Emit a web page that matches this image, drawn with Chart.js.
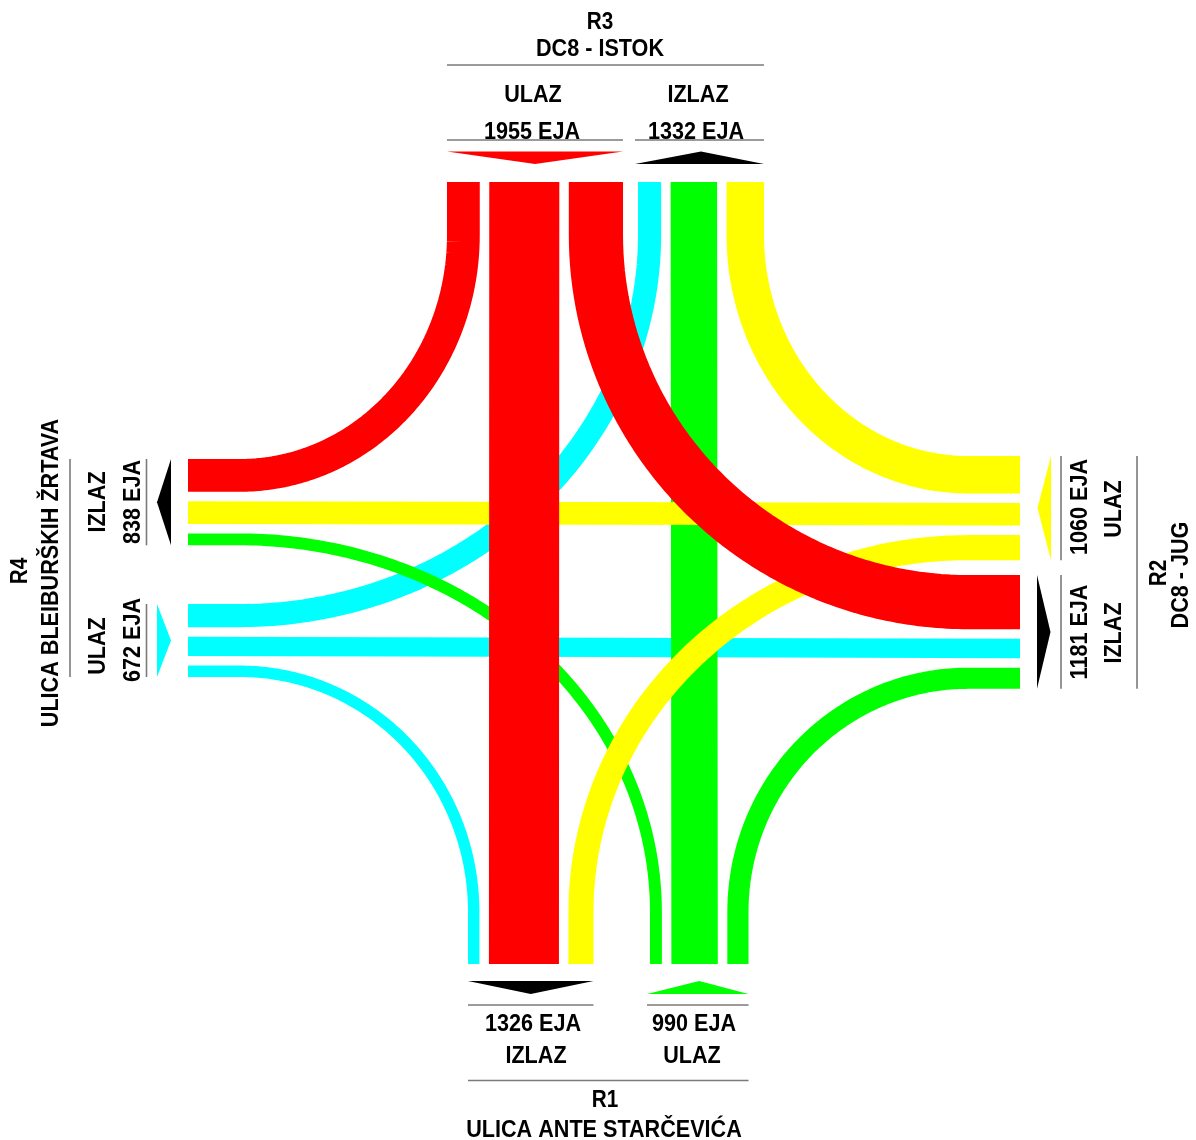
<!DOCTYPE html>
<html>
<head>
<meta charset="utf-8">
<script src="https://cdn.jsdelivr.net/npm/chart.js@4.4.1/dist/chart.umd.min.js"></script>
<style>
  html, body { margin: 0; padding: 0; background: #ffffff; }
  #wrap { width: 1196px; height: 1140px; position: relative; }
</style>
</head>
<body>
<div id="wrap"><canvas id="c"></canvas></div>
<script>
// ---------------- DATA (EJA = equivalent vehicle units) ----------------
const roadCodes = ['R1', 'R2', 'R3', 'R4'];
const roadNames = ['ULICA ANTE STARČEVIĆA', 'DC8 - JUG', 'DC8 - ISTOK', 'ULICA BLEIBURŠKIH ŽRTAVA'];
const flowsR1 = [148, 578, 264];   // R1 -> R4, R3, R2
const flowsR2 = [466, 282, 312];   // R2 -> R3, R4, R1
const flowsR3 = [408, 872, 675];   // R3 -> R4, R1, R2
const flowsR4 = [288, 242, 142];   // R4 -> R3, R2, R1
const entryLabel = 'ULAZ';
const exitLabel = 'IZLAZ';
const unitLabel = 'EJA';

// ---------------- LAYOUT ----------------
const W = 1196, H = 1140;
const K = 1 / 12.45;      // px per EJA
const GAP = 9.5;
const TOP_Y = 182, TOP_BEND = 235, BOT_Y = 964, BOT_BEND = 912;
const LEFT_X = 188, LEFT_BEND = 240, RIGHT_X = 1020, RIGHT_BEND = 968;
const COL = { R1: '#00ff00', R2: '#ffff00', R3: '#ff0000', R4: '#00ffff' };

function lanes(start, values) {
  let p = start;
  return values.map(v => {
    const w = v * K;
    const o = { a: p, b: p + w, c: p + w / 2, w: w };
    p += w + GAP;
    return o;
  });
}
const sum = a => a.reduce((s, v) => s + v, 0);

const T_in  = lanes(447, flowsR3);
const T_out = lanes(638, [flowsR4[0], flowsR1[1], flowsR2[0]]);
const L_out = lanes(459, [flowsR3[0], flowsR2[1], flowsR1[0]]);
const L_in  = lanes(604, flowsR4);
const R_in  = lanes(456, flowsR2);
const R_out = lanes(575, [flowsR3[2], flowsR4[1], flowsR1[2]]);
const B_out = lanes(468, [flowsR4[2], flowsR3[1], flowsR2[2]]);
const B_in  = lanes(650, flowsR1);

const entryTotals = { R1: sum(flowsR1), R2: sum(flowsR2), R3: sum(flowsR3), R4: sum(flowsR4) };
const exitTotals = {
  R1: flowsR4[2] + flowsR3[1] + flowsR2[2],
  R2: flowsR3[2] + flowsR4[1] + flowsR1[2],
  R3: flowsR4[0] + flowsR1[1] + flowsR2[0],
  R4: flowsR3[0] + flowsR2[1] + flowsR1[0]
};

// path builders (layout coordinates == scale values)
function turn(xv, yEndV, yh, xEndH, cx, cy) {
  const pts = [{ x: xv, y: yEndV }];
  const N = 60;
  for (let i = 0; i <= N; i++) {
    const t = (Math.PI / 2) * i / N;
    pts.push({ x: cx + (xv - cx) * Math.cos(t), y: cy + (yh - cy) * Math.sin(t) });
  }
  pts.push({ x: xEndH, y: yh });
  return pts;
}
function straight(x1, y1, x2, y2) { return [{ x: x1, y: y1 }, { x: x2, y: y2 }]; }

const movements = [
  // red (R3) on top
  { from: 'R3', v: flowsR3[0], pts: turn(T_in[0].c, TOP_Y, L_out[0].c, LEFT_X, LEFT_BEND, TOP_BEND) },
  { from: 'R3', v: flowsR3[1], pts: straight(T_in[1].c, TOP_Y, B_out[1].c, BOT_Y) },
  { from: 'R3', v: flowsR3[2], pts: turn(T_in[2].c, TOP_Y, R_out[0].c, RIGHT_X, RIGHT_BEND, TOP_BEND) },
  // yellow (R2)
  { from: 'R2', v: flowsR2[0], pts: turn(T_out[2].c, TOP_Y, R_in[0].c, RIGHT_X, RIGHT_BEND, TOP_BEND) },
  { from: 'R2', v: flowsR2[1], pts: straight(RIGHT_X, R_in[1].c, LEFT_X, L_out[1].c) },
  { from: 'R2', v: flowsR2[2], pts: turn(B_out[2].c, BOT_Y, R_in[2].c, RIGHT_X, RIGHT_BEND, BOT_BEND) },
  // green (R1)
  { from: 'R1', v: flowsR1[0], pts: turn(B_in[0].c, BOT_Y, L_out[2].c, LEFT_X, LEFT_BEND, BOT_BEND) },
  { from: 'R1', v: flowsR1[1], pts: straight(B_in[1].c, BOT_Y, T_out[1].c, TOP_Y) },
  { from: 'R1', v: flowsR1[2], pts: turn(B_in[2].c, BOT_Y, R_out[2].c, RIGHT_X, RIGHT_BEND, BOT_BEND) },
  // cyan (R4)
  { from: 'R4', v: flowsR4[0], pts: turn(T_out[0].c, TOP_Y, L_in[0].c, LEFT_X, LEFT_BEND, TOP_BEND) },
  { from: 'R4', v: flowsR4[1], pts: straight(LEFT_X, L_in[1].c, RIGHT_X, R_out[1].c) },
  { from: 'R4', v: flowsR4[2], pts: turn(B_out[0].c, BOT_Y, L_in[2].c, LEFT_X, LEFT_BEND, BOT_BEND) }
];

const datasets = movements.map(m => ({
  label: m.from,
  data: m.pts,
  borderColor: COL[m.from],
  backgroundColor: COL[m.from],
  borderWidth: m.v * K,
  borderCapStyle: 'butt',
  borderJoinStyle: 'round',
  pointRadius: 0,
  pointHoverRadius: 0,
  tension: 0.0001,          // non-zero -> full path drawing (no fast min/max path)
  capBezierPoints: false,
  fill: false
}));

// ---------------- decorations plugin ----------------
const FONT = '"Liberation Sans", Arial, sans-serif';
const FONT_SX = 0.9;   // narrow look
const grp = l => ({ a: l[0].a, b: l[l.length - 1].b });

const decor = {
  id: 'decor',
  afterDatasetsDraw(chart) {
    const ctx = chart.ctx;
    const sx = v => chart.scales.x.getPixelForValue(v);
    const sy = v => chart.scales.y.getPixelForValue(v);
    ctx.save();
    // lines
    ctx.strokeStyle = '#7a7a7a';
    ctx.lineWidth = 1.6;
    const hl = (x1, x2, y) => { ctx.beginPath(); ctx.moveTo(sx(x1), sy(y)); ctx.lineTo(sx(x2), sy(y)); ctx.stroke(); };
    const vl = (x, y1, y2) => { ctx.beginPath(); ctx.moveTo(sx(x), sy(y1)); ctx.lineTo(sx(x), sy(y2)); ctx.stroke(); };
    const tIn = grp(T_in), tOut = grp(T_out), lIn = grp(L_in), lOut = grp(L_out);
    const rIn = grp(R_in), rOut = grp(R_out), bIn = grp(B_in), bOut = grp(B_out);
    hl(tIn.a, tOut.b, 65);
    hl(tIn.a, tIn.b, 140); hl(tOut.a - 3, tOut.b, 140);
    hl(bOut.a, bOut.b, 1005); hl(bIn.a - 3, bIn.b, 1005);
    hl(bOut.a, bIn.b, 1080.5);
    vl(70, lOut.a, lIn.b);
    vl(146.5, lOut.a, lOut.b); vl(146.5, lIn.a, lIn.b);
    vl(1061, rIn.a, rIn.b); vl(1061, rOut.a, rOut.b);
    vl(1137, rIn.a, rOut.b);

    // arrows
    const tri = (p, color) => {
      ctx.fillStyle = color;
      ctx.beginPath();
      ctx.moveTo(sx(p[0][0]), sy(p[0][1]));
      ctx.lineTo(sx(p[1][0]), sy(p[1][1]));
      ctx.lineTo(sx(p[2][0]), sy(p[2][1]));
      ctx.closePath();
      ctx.fill();
    };
    tri([[tIn.a, 151.5], [tIn.b, 151.5], [(tIn.a + tIn.b) / 2, 164]], COL.R3);
    tri([[tOut.a - 3, 164], [tOut.b, 164], [(tOut.a + tOut.b) / 2, 151.5]], '#000');
    tri([[bOut.a, 981], [bOut.b, 981], [(bOut.a + bOut.b) / 2, 994]], '#000');
    tri([[bIn.a - 3, 994], [bIn.b, 994], [(bIn.a + bIn.b) / 2, 981]], COL.R1);
    tri([[171, lOut.a], [171, lOut.b], [157, (lOut.a + lOut.b) / 2]], '#000');
    tri([[157, lIn.a], [157, lIn.b], [171, (lIn.a + lIn.b) / 2]], COL.R4);
    tri([[1051, rIn.a], [1051, rIn.b], [1037.5, (rIn.a + rIn.b) / 2]], COL.R2);
    tri([[1037, rOut.a], [1037, rOut.b], [1050.5, (rOut.a + rOut.b) / 2]], '#000');

    // texts
    ctx.fillStyle = '#000';
    ctx.textAlign = 'center';
    ctx.textBaseline = 'alphabetic';
    const txt = (s, x, y, size, rot) => {
      ctx.save();
      ctx.font = 'bold ' + size + 'px ' + FONT;
      ctx.translate(sx(x), sy(y));
      if (rot) ctx.rotate(-Math.PI / 2);
      ctx.scale(FONT_SX, 1);
      ctx.fillText(s, 0, 0);
      ctx.restore();
    };
    const eja = v => v + ' ' + unitLabel;
    // top R3
    txt(roadCodes[2], 600, 29, 23);
    txt(roadNames[2], 600, 56, 24);
    txt(entryLabel, 533, 102, 24);
    txt(exitLabel, 698, 102, 24);
    txt(eja(entryTotals.R3), 532, 139, 24);
    txt(eja(exitTotals.R3), 696, 139, 24);
    // bottom R1
    txt(eja(exitTotals.R1), 533, 1031, 24);
    txt(eja(entryTotals.R1), 694, 1031, 24);
    txt(exitLabel, 536, 1063, 24);
    txt(entryLabel, 692, 1063, 24);
    txt(roadCodes[0], 605, 1107, 23);
    txt(roadNames[0], 604, 1137, 24);
    // left R4
    txt(roadCodes[3], 27, 571, 23, true);
    txt(roadNames[3], 58, 573, 24, true);
    txt(exitLabel, 105, 502, 24, true);
    txt(eja(exitTotals.R4), 140, 502, 24, true);
    txt(entryLabel, 105, 646, 24, true);
    txt(eja(entryTotals.R4), 140, 640, 24, true);
    // right R2
    txt(eja(entryTotals.R2), 1087, 507, 24, true);
    txt(entryLabel, 1121, 509, 24, true);
    txt(eja(exitTotals.R2), 1087, 632, 24, true);
    txt(exitLabel, 1121, 633, 24, true);
    txt(roadCodes[1], 1166, 573, 23, true);
    txt(roadNames[1], 1188, 575, 24, true);
    ctx.restore();
  }
};

new Chart(document.getElementById('c'), {
  type: 'line',
  data: { datasets },
  options: {
    responsive: true,
    maintainAspectRatio: false,
    animation: false,
    events: [],
    layout: { padding: 0 },
    plugins: { legend: { display: false }, tooltip: { enabled: false }, title: { display: false } },
    scales: {
      x: { type: 'linear', min: 0, max: W, display: false },
      y: { type: 'linear', min: 0, max: H, reverse: true, display: false }
    }
  },
  plugins: [decor]
});
</script>
</body>
</html>
